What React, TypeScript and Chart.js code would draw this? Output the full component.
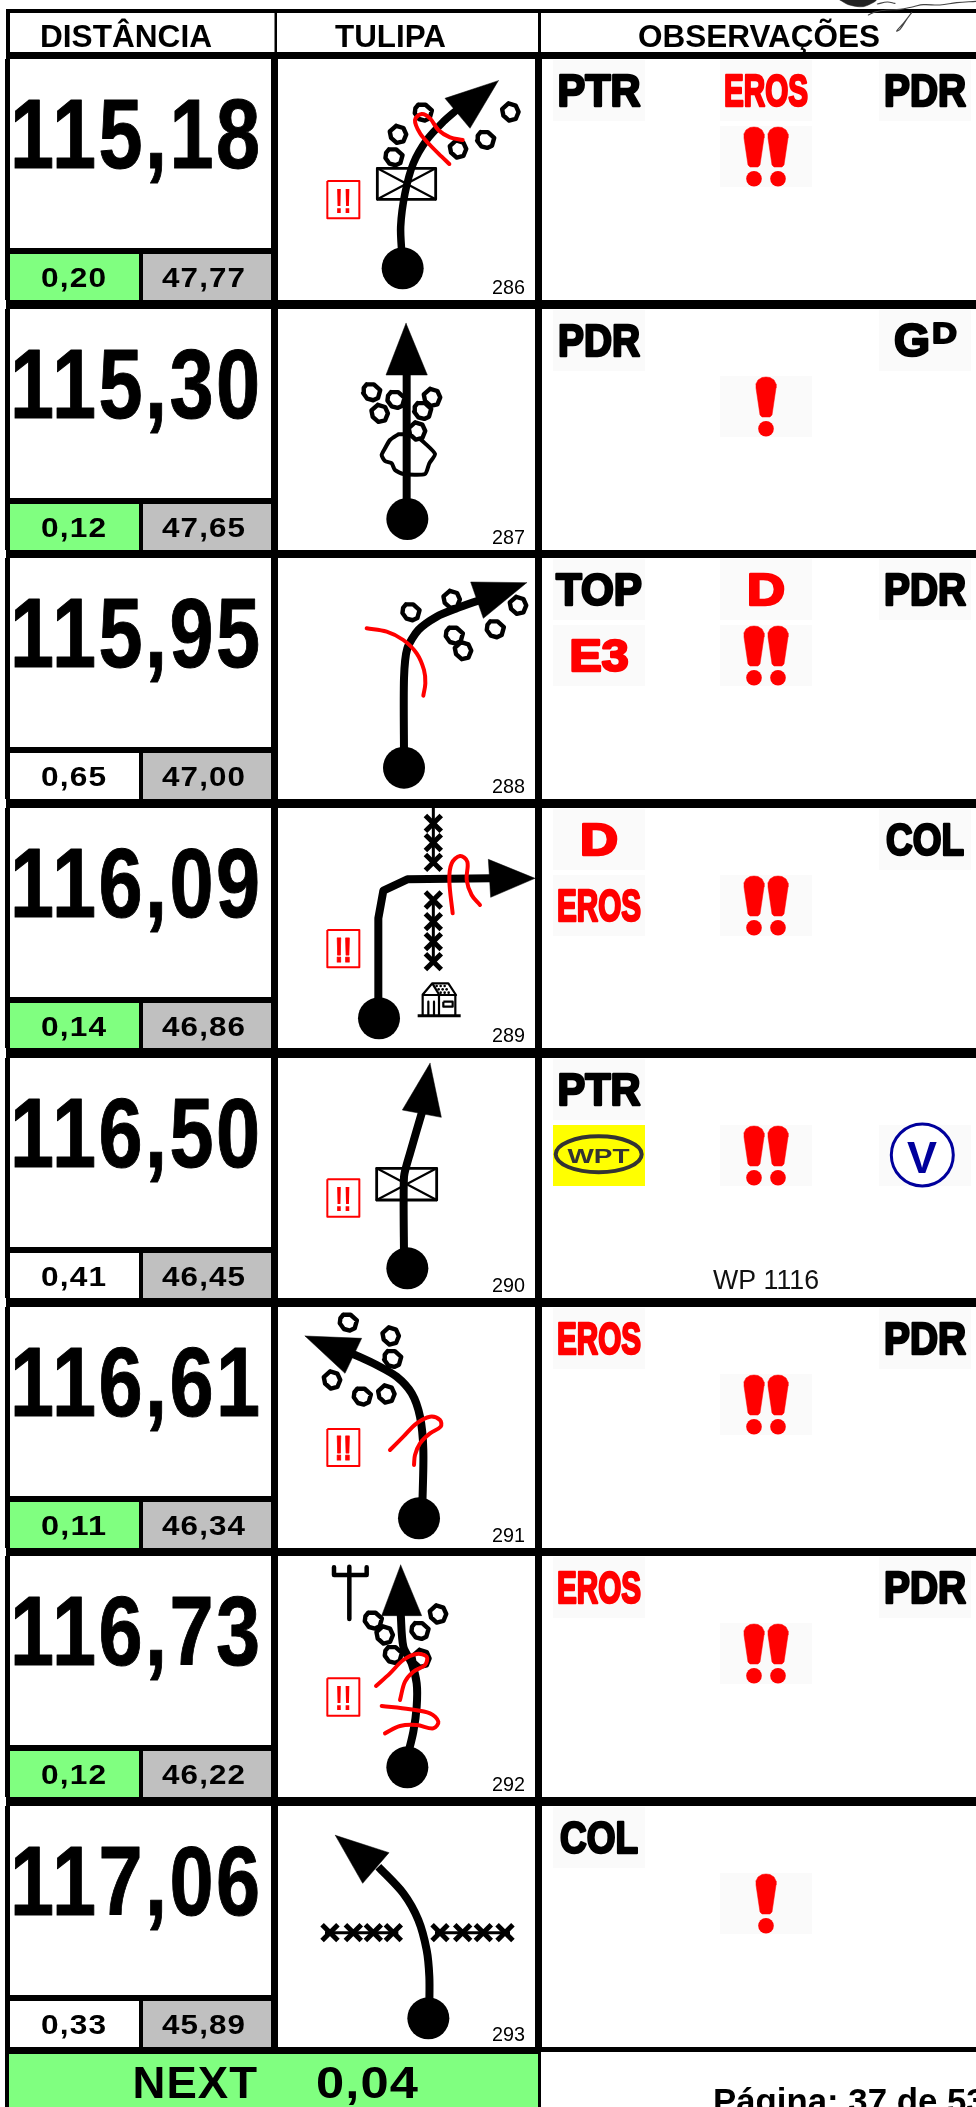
import React, { useEffect, useRef } from "react";
import { Chart, registerables } from "chart.js";

Chart.register(...registerables);

type P = [number, number];

// ---- table values ----
const headers = ["DISTÂNCIA", "TULIPA", "OBSERVAÇÕES"];
const distances = ["115,18", "115,30", "115,95", "116,09", "116,50", "116,61", "116,73", "117,06"];
const partials = ["0,20", "0,12", "0,65", "0,14", "0,41", "0,11", "0,12", "0,33"];
const remaining = ["47,77", "47,65", "47,00", "46,86", "46,45", "46,34", "46,22", "45,89"];
const greenPartial = [true, true, false, true, false, true, true, false];
const tulipNumbers = ["286", "287", "288", "289", "290", "291", "292", "293"];
const nextLabel = "NEXT";
const nextValue = "0,04";
const pageLabel = "Página: 37 de 53";
const waypointNote = "WP 1116";

// ---- layout of the sheet ----
const rowTops = [59, 309, 558, 808, 1058, 1307, 1556, 1806];
const rowBottoms = [300, 550, 799, 1048, 1298, 1548, 1797, 2047];
const zoomOriginY = [50, 300, 300, 800, 800, 1300, 1550, 1800];
const tagColumns = [553, 720, 879];
const tagRows = [1, 67];
const tagSize: P = [92, 61];

// ---- observation tags: row, column, line, text, colour, text width ----
const RED = "#ff0000";
const tags: [number, number, number, string, string, number][] = [
  [0, 0, 0, "PTR", "#000", 83], [0, 1, 0, "EROS", RED, 84], [0, 2, 0, "PDR", "#000", 82],
  [1, 0, 0, "PDR", "#000", 82],
  [2, 0, 0, "TOP", "#000", 86], [2, 1, 0, "D", RED, 38], [2, 2, 0, "PDR", "#000", 82], [2, 0, 1, "E3", RED, 59],
  [3, 0, 0, "D", RED, 38], [3, 2, 0, "COL", "#000", 78], [3, 0, 1, "EROS", RED, 84],
  [4, 0, 0, "PTR", "#000", 83],
  [5, 0, 0, "EROS", RED, 84], [5, 2, 0, "PDR", "#000", 82],
  [6, 0, 0, "EROS", RED, 84], [6, 2, 0, "PDR", "#000", 82],
  [7, 0, 0, "COL", "#000", 78],
];
const doubleBangRows = [0, 2, 3, 4, 5, 6];
const singleBangRows = [1, 7];

// ---- bang glyph outline ----
const bangOutline: P[] = [[24, 75], [26, 71], [30, 68.5], [34, 68], [38, 68.5], [42, 71], [44, 75], [44, 79], [40, 106], [38, 108], [30, 108], [28, 106], [24, 79], [24, 75]];

// ---- tulip drawings, in 3x crop pixels ----
const rockA: P[] = [[-16, -25], [7, -25], [27, -7], [20, 18], [5, 25], [-14, 20], [-27, 2], [-25, -14], [-16, -25]];
const rockB: P[] = [[-7, -27], [16, -20], [25, 0], [16, 22], [-5, 27], [-23, 11], [-27, -9], [-7, -27]];

const stems: P[][] = [
  [[396, 620], [392, 530], [405, 430], [430, 340], [470, 270], [520, 215], [560, 180]],
  [[410, 620], [410, 215]],
  [[402, 1370], [402, 1135], [412, 1045], [445, 990], [500, 950], [560, 925], [630, 900]],
  [[325, 620], [325, 355], [340, 272], [412, 238], [665, 235]],
  [[402, 1370], [402, 1130], [420, 1060], [458, 930]],
  [[457, 620], [460, 450], [450, 350], [425, 280], [380, 230], [320, 195], [245, 160]],
  [[412, 620], [430, 545], [440, 470], [440, 400], [425, 340], [400, 290], [392, 190]],
  [[478, 620], [478, 530], [470, 450], [445, 360], [400, 280], [325, 200]],
];
const stemWidths = [7.5, 8, 8, 8, 8, 8, 8, 8];
const stemTension = [0.3, 0, 0.25, 0, 0.2, 0.3, 0.3, 0.3];
const heads: P[][] = [
  [[685, 92], [525, 145], [600, 235]],
  [[408, 70], [348, 225], [472, 225]],
  [[770, 848], [602, 846], [640, 955]],
  [[795, 235], [655, 178], [662, 292]],
  [[480, 790], [397, 930], [514, 952]],
  [[105, 108], [275, 115], [225, 220]],
  [[392, 45], [335, 197], [455, 197]],
  [[196, 106], [357, 158], [278, 250]],
];
const dots: P[] = [[398, 655], [412, 657], [402, 1403], [327, 655], [412, 1405], [447, 655], [412, 652], [475, 655]];
const rocks: P[][] = [
  [[460, 188], [385, 253], [372, 322], [565, 297], [647, 270], [722, 186]],
  [[305, 277], [330, 340], [378, 300], [487, 292], [458, 333], [442, 393]],
  [[423, 937], [546, 898], [553, 1007], [580, 1052], [676, 988], [745, 916]],
  [],
  [],
  [[235, 68], [363, 108], [368, 177], [187, 240], [277, 290], [350, 282]],
  [[310, 212], [345, 255], [370, 315], [455, 325], [450, 243], [505, 192]],
  [],
];
const redMarks: P[][][] = [
  [[[578, 270], [540, 262], [505, 240], [480, 205], [455, 192], [435, 210], [450, 250], [480, 285], [515, 320], [538, 342]]],
  [],
  [[[290, 985], [350, 995], [400, 1020], [440, 1060], [462, 1110], [466, 1150], [460, 1187]]],
  [[[548, 340], [538, 240], [545, 190], [570, 168], [592, 185], [590, 240], [605, 285], [630, 315]]],
  [],
  [[[360, 450], [400, 410], [440, 370], [480, 350], [510, 360], [512, 380], [480, 400], [450, 430], [435, 465], [432, 495]]],
  [
    [[318, 408], [360, 370], [400, 330], [440, 312], [470, 320], [465, 345], [430, 365], [405, 395], [390, 450]],
    [[335, 468], [420, 478], [480, 490], [505, 515], [490, 535], [440, 525], [390, 528], [345, 550]],
  ],
  [],
];
const crossedBoxes: [number, number, number, number, number][] = [
  [0, 322, 355, 497, 448],
  [4, 320, 1105, 500, 1200],
];
const warnBoxes: [number, number, number, number, number, boolean][] = [
  [0, 172, 393, 268, 505, false],
  [3, 172, 390, 268, 502, true],
  [4, 172, 1138, 268, 1250, false],
  [5, 172, 387, 268, 498, true],
  [6, 172, 385, 268, 497, false],
];
const fenceLines: [number, P[], P[]][] = [
  [3, [[490, 24], [490, 187]], [[490, 18], [490, 70], [490, 128], [490, 187]]],
  [3, [[490, 300], [490, 485]], [[490, 300], [490, 365], [490, 425], [490, 485]]],
  [7, [[165, 398], [385, 398]], [[180, 398], [250, 398], [310, 398], [370, 398]]],
  [7, [[495, 398], [720, 398]], [[510, 398], [578, 398], [640, 398], [705, 398]]],
];
const bushOutline: P[] = [[385, 403], [360, 420], [345, 445], [335, 465], [345, 483], [365, 490], [375, 510], [400, 522], [465, 522], [478, 490], [495, 462], [465, 430], [440, 410], [410, 403], [385, 403]];
const antennaParts: P[][] = [[[238, 50], [238, 207]], [[192, 52], [192, 75], [290, 75], [290, 52]]];
const houseLines: P[][] = [
  [[443, 647], [572, 647]],
  [[457, 585], [487, 550], [535, 550], [558, 585], [457, 585]],
  [[487, 550], [508, 585]],
  [[458, 585], [458, 645]], [[556, 585], [556, 645]], [[507, 585], [507, 645]],
  [[475, 605], [475, 645]], [[492, 605], [492, 645]],
  [[520, 605], [548, 605], [548, 620], [520, 620], [520, 605]],
];
const houseDots: P[] = [[500, 558], [512, 558], [524, 558], [506, 568], [518, 568], [530, 568], [512, 578], [524, 578], [536, 578]];
const logoBlob: P[] = [[120, 0], [145, 14], [190, 20], [228, 0]];
const logoScript: P[][] = [
  [[205, 45], [225, 36], [260, 30], [300, 28], [340, 20], [370, 14], [420, 15], [470, 8], [528, 4]],
  [[335, 38], [310, 70], [290, 93], [300, 88], [322, 55]],
  [[232, 12], [262, 6], [285, 10]],
];

// ---- helpers that only turn the arrays above into chart datasets ----
const page = (row: number, p: P) => ({ x: 270 + p[0] / 3, y: zoomOriginY[row] + p[1] / 3 });

function path(points: { x: number; y: number }[], color: string, width: number, tension = 0, fillColor?: string, cap = "round") {
  return {
    data: points,
    showLine: true,
    borderColor: color,
    borderWidth: width,
    backgroundColor: fillColor ?? "transparent",
    fill: fillColor ? "shape" : false,
    tension,
    pointRadius: 0,
    borderCapStyle: cap,
    borderJoinStyle: "round",
    clip: false,
  };
}
function marks(points: { x: number; y: number }[], style: string, radius: number, fill: string, border: string, borderWidth: number) {
  return {
    data: points,
    showLine: false,
    pointStyle: style,
    pointRadius: radius,
    backgroundColor: fill,
    borderColor: border,
    borderWidth,
    clip: false,
  };
}

function buildDatasets() {
  const sets: any[] = [];
  rowTops.forEach((_, r) => {
    // under the stem
    crossedBoxes.filter((b) => b[0] === r).forEach(([, a, b, c, d]) => {
      const corners: P[] = [[a, b], [c, b], [c, d], [a, d], [a, b]];
      sets.push(path(corners.map((p) => page(r, p)), "#000", 2.8));
      sets.push(path(([[a, b], [c, d]] as P[]).map((p) => page(r, p)), "#000", 2.2));
      sets.push(path(([[c, b], [a, d]] as P[]).map((p) => page(r, p)), "#000", 2.2));
    });
    fenceLines.filter((f) => f[0] === r).forEach(([, l, x]) => {
      sets.push(path(l.map((p) => page(r, p)), "#000", 3, 0, undefined, "butt"));
      sets.push(marks(x.filter((p) => p[1] >= 24).map((p) => page(r, p)), "crossRot", 11.2, "#000", "#000", 5));
    });
    if (r === 1) sets.push(path(bushOutline.map((p) => page(1, p)), "#000", 4, 0.2));
    // stem, head, start dot
    sets.push(path(stems[r].map((p) => page(r, p)), "#000", stemWidths[r], stemTension[r], undefined, "butt"));
    const h = [...heads[r], heads[r][0]];
    sets.push(path(h.map((p) => page(r, p)), "#000", 0.5, 0, "#000"));
    sets.push(marks([page(r, dots[r])], "circle", 21, "#000", "#000", 0));
    // rocks
    rocks[r].forEach((c, i) => {
      const shape = i % 2 ? rockB : rockA;
      sets.push(path(shape.map((p) => page(r, [c[0] + p[0] * 0.95, c[1] + p[1] * 0.95])), "#000", 4.4, 0, "#fff"));
    });
    // warnings and red pen
    redMarks[r].forEach((m) => sets.push(path(m.map((p) => page(r, p)), RED, 4, 0.35)));
    warnBoxes.filter((b) => b[0] === r).forEach(([, a, b, c, d]) => {
      const corners: P[] = [[a, b], [c, b], [c, d], [a, d], [a, b]];
      sets.push(path(corners.map((p) => page(r, p)), RED, 2, 0, "#fff", "butt"));
    });
  });
  antennaParts.forEach((a) => sets.push(path(a.map((p) => page(6, p)), "#000", 4.5)));
  houseLines.forEach((a, i) => sets.push(path(a.map((p) => page(3, p)), "#000", i === 0 ? 3 : 2.2, 0, undefined, "butt")));
  sets.push(marks(houseDots.map((p) => page(3, p)), "circle", 1.3, "#000", "#000", 0));

  // big red bangs in the observation column
  const addBang = (row: number, dx: number) => {
    const top = rowTops[row];
    const left = tagColumns[1] + dx;
    sets.push(path(bangOutline.map((p) => ({ x: left + p[0], y: top + p[1] })), RED, 0.5, 0, RED));
    sets.push(marks([{ x: left + 34, y: top + 119.7 }], "circle", 7.8, RED, RED, 0));
  };
  doubleBangRows.forEach((r) => { addBang(r, 0); addBang(r, 24); });
  singleBangRows.forEach((r) => addBang(r, 12));

  // circled V on the waypoint row
  sets.push(marks([{ x: 922.3, y: rowTops[4] + 97 }], "circle", 31, "#fff", "#00009c", 3));

  // logo remains above the header
  const logo = (p: P) => ({ x: 800 + p[0] / 3, y: p[1] / 3 });
  sets.push(path([...logoBlob, logoBlob[0]].map(logo), "#222", 0.5, 0.3, "#222"));
  logoScript.forEach((s) => sets.push(path(s.map(logo), "#444", 1.1, 0.4)));

  const n = sets.length;
  sets.forEach((s, i) => { s.order = n - i; });
  return sets;
}

const SANS = '"Liberation Sans", Arial, sans-serif';

function fitText(ctx: CanvasRenderingContext2D, text: string, x: number, base: number, width: number, capH: number, color: string, weight = "bold", stroke = 0, align: "left" | "center" = "left", spacing = 0) {
  const size = capH / 0.72;
  ctx.save();
  ctx.font = `${weight} ${size}px ${SANS}`;
  (ctx as any).letterSpacing = `${spacing}px`;
  const natural = ctx.measureText(text).width - spacing;
  const k = width / natural;
  ctx.translate(align === "center" ? x - width / 2 : x, base);
  ctx.scale(k, 1);
  ctx.textAlign = "left";
  ctx.textBaseline = "alphabetic";
  ctx.fillStyle = color;
  ctx.fillText(text, 0, 0);
  if (stroke) {
    ctx.strokeStyle = color;
    ctx.lineWidth = stroke;
    ctx.lineJoin = "round";
    ctx.strokeText(text, 0, 0);
  }
  ctx.restore();
}

const sheetPlugin = {
  id: "sheet",
  beforeDatasetsDraw(chart: any) {
    const { ctx, scales } = chart;
    const X = (v: number) => scales.x.getPixelForValue(v);
    const Y = (v: number) => scales.y.getPixelForValue(v);
    const box = (a: number, b: number, c: number, d: number, color: string) => {
      ctx.fillStyle = color;
      ctx.fillRect(X(a), Y(b), X(c) - X(a), Y(d) - Y(b));
    };
    const K = "#000";
    box(6, 9, 976, 13, K);
    box(6, 9, 10, 59, K);
    box(274.5, 9, 277, 59, K);
    box(538, 9, 541, 59, K);
    box(6, 52, 976, 59, K);
    rowTops.forEach((top, r) => {
      const bottom = rowBottoms[r];
      const next = rowTops[r + 1] ?? bottom + 5;
      box(6, bottom, 976, next, K);
      box(5, top, 10, bottom, K);
      box(271, top, 278, bottom, K);
      box(535, top, 542, bottom, K);
      box(10, top + 189, 271, top + 195, K);
      box(139, top + 195, 143, bottom, K);
      if (greenPartial[r]) box(10, top + 195, 139, bottom, "#80ff80");
      box(143, top + 195, 271, bottom, "#c0c0c0");
    });
    // observation icon plates
    const plate = (r: number, c: number, l: number, color = "#fafafa") => {
      box(tagColumns[c], rowTops[r] + tagRows[l], tagColumns[c] + tagSize[0], rowTops[r] + tagRows[l] + tagSize[1], color);
    };
    tags.forEach(([r, c, l]) => plate(r, c, l));
    plate(1, 2, 0);
    doubleBangRows.forEach((r) => plate(r, 1, 1));
    singleBangRows.forEach((r) => plate(r, 1, 1));
    plate(4, 0, 1, "#ffff00");
    plate(4, 2, 1);
    // footer
    box(5, 2047, 976, 2052, K);
    box(5, 2052, 541, 2054, K);
    box(5, 2054, 9, 2107, K);
    box(538, 2054, 541, 2107, K);
    box(9, 2054, 538, 2107, "#80ff80");
  },
  afterDatasetsDraw(chart: any) {
    const { ctx, scales } = chart;
    const X = (v: number) => scales.x.getPixelForValue(v);
    const Y = (v: number) => scales.y.getPixelForValue(v);
    // header
    fitText(ctx, headers[0], X(40), Y(47), 172, 23, "#000");
    fitText(ctx, headers[1], X(335), Y(47), 111, 23, "#000");
    fitText(ctx, headers[2], X(638), Y(47), 242, 23, "#000");
    rowTops.forEach((top, r) => {
      fitText(ctx, distances[r], X(10), Y(top + 109), 250, 71, "#000", "bold", 1, "left", 3);
      fitText(ctx, partials[r], X(41), Y(top + 228), 65, 20, "#000", "bold", 0, "left", 1);
      fitText(ctx, remaining[r], X(162), Y(top + 228), 83, 20, "#000", "bold", 0, "left", 1);
      fitText(ctx, tulipNumbers[r], X(492), Y(rowBottoms[r] - 6), 33, 15, "#000", "normal");
    });
    tags.forEach(([r, c, l, text, color, w]) => {
      const cx = tagColumns[c] + tagSize[0] / 2;
      const base = rowTops[r] + tagRows[l] + 45.5;
      fitText(ctx, text, X(cx), Y(base), w, 32.5, color, "bold", 2.6, "center");
    });
    // G with raised D
    fitText(ctx, "G", X(894), Y(rowTops[1] + 47), 36, 33, "#000", "bold", 2.4);
    fitText(ctx, "D", X(932), Y(rowTops[1] + 34), 25, 21, "#000", "bold", 1.8);
    // small warning marks
    warnBoxes.forEach(([r, a, b, c, d, bold]) => {
      const p = page(r, [(a + c) / 2, d - 17]);
      fitText(ctx, "!!", X(p.x), Y(p.y), 17, 25, RED, "bold", bold ? 1 : 0, "center");
    });
    // waypoint row
    const wy = rowTops[4];
    ctx.save();
    ctx.strokeStyle = "#333";
    ctx.lineWidth = 4;
    ctx.beginPath();
    ctx.ellipse(X(598.7), Y(wy + 96.3), 43, 18, 0, 0, Math.PI * 2);
    ctx.stroke();
    ctx.restore();
    fitText(ctx, "WPT", X(598.5), Y(wy + 104.7), 62, 15, "#333", "bold", 0, "center");
    fitText(ctx, "V", X(922), Y(wy + 115), 30, 32, "#00009c", "bold", 0, "center");
    fitText(ctx, waypointNote, X(713), Y(1289), 106, 19.5, "#111", "normal");
    // footer
    fitText(ctx, nextLabel, X(132.5), Y(2098), 124.5, 32, "#000", "bold", 0, "left", 1);
    fitText(ctx, nextValue, X(316), Y(2098), 102, 32, "#000", "bold", 0, "left", 1);
    ctx.save();
    ctx.font = `bold 34.8px ${SANS}`;
    ctx.fillStyle = "#000";
    ctx.fillText(pageLabel, X(713), Y(2113));
    ctx.restore();
  },
};

export default function App() {
  const ref = useRef<HTMLCanvasElement>(null);
  useEffect(() => {
    document.body.style.margin = "0";
    const chart = new Chart(ref.current as HTMLCanvasElement, {
      type: "scatter",
      data: { datasets: buildDatasets() },
      options: {
        animation: false,
        responsive: false,
        devicePixelRatio: 1,
        events: [],
        layout: { padding: 0, autoPadding: false },
        plugins: { legend: { display: false }, tooltip: { enabled: false }, title: { display: false } },
        scales: {
          x: { type: "linear", min: 0, max: 976, display: false },
          y: { type: "linear", min: 0, max: 2107, reverse: true, display: false },
        },
      },
      plugins: [sheetPlugin],
    } as any);
    return () => chart.destroy();
  }, []);
  return (
    <div style={{ position: "absolute", left: 0, top: 0, width: 976, height: 2107, overflow: "hidden", background: "#fff" }}>
      <canvas ref={ref} width={976} height={2107} style={{ display: "block", width: 976, height: 2107 }} />
    </div>
  );
}
